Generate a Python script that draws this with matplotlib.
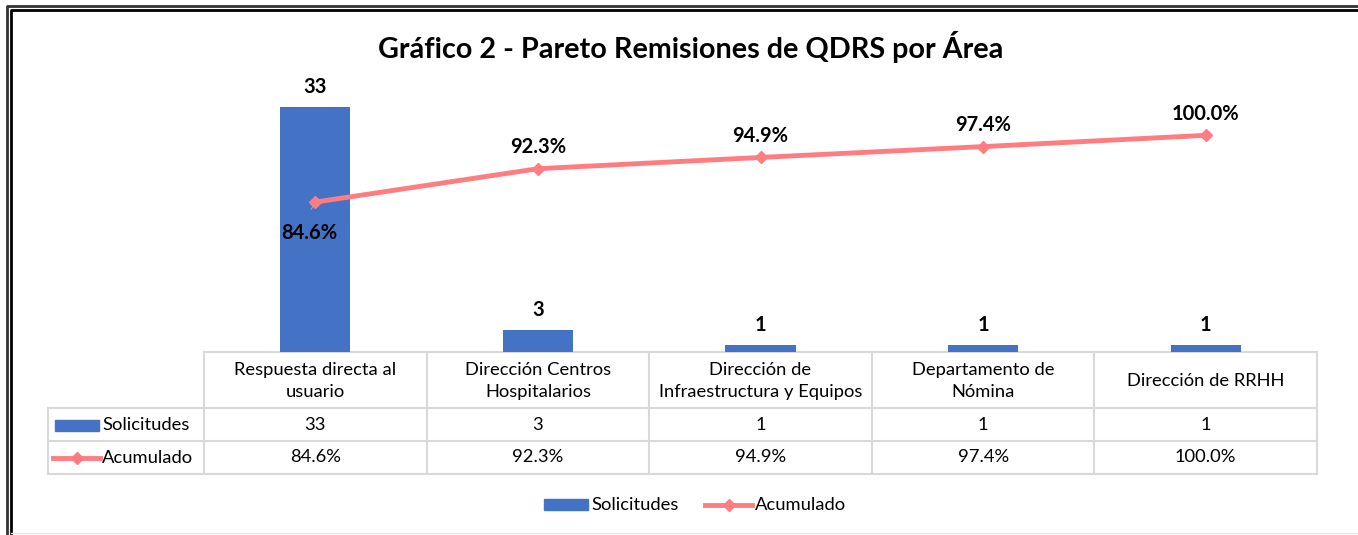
import matplotlib
matplotlib.use("Agg")
import matplotlib.pyplot as plt
from matplotlib.patches import Rectangle

categories = ["Respuesta directa al\nusuario", "Dirección Centros\nHospitalarios",
              "Dirección de\nInfraestructura y Equipos", "Departamento de\nNómina",
              "Dirección de RRHH"]
solicitudes = [33, 3, 1, 1, 1]
acumulado = [0.846, 0.923, 0.949, 0.974, 1.000]
acum_labels = ["84.6%", "92.3%", "94.9%", "97.4%", "100.0%"]
title = "Gráfico 2 - Pareto Remisiones de QDRS por Área"

BLUE = "#4472C4"
PINK = "#FF7C80"
GRID = "#D9D9D9"
FONT = ["Lato", "DejaVu Sans"]
plt.rcParams["font.family"] = FONT

W, H = 1358, 535
fig = plt.figure(figsize=(W / 100, H / 100), dpi=100)

# overlay in pixel coordinates
ov = fig.add_axes([0, 0, 1, 1])
ov.set_xlim(0, W)
ov.set_ylim(H, 0)
ov.axis("off")

# plot area
L, R, T, B = 204, 1317, 92, 352
ax = fig.add_axes([L / W, 1 - B / H, (R - L) / W, (B - T) / H])
ax2 = ax.twinx()
n = len(categories)
x = list(range(n))
ax.bar(x, solicitudes, width=0.315, color=BLUE, zorder=2)
ax.set_xlim(-0.5, n - 0.5)
ax.set_ylim(0, 35)
ax2.set_ylim(0.5, 1.1)
ax2.plot(x, acumulado, color=PINK, lw=3.5, marker="D", ms=6, zorder=3)
for a in (ax, ax2):
    a.axis("off")
ax.set_zorder(1)
ax2.set_zorder(2)

LBL = 14.5
for i, v in enumerate(solicitudes):
    ax.annotate(str(v), (i, v), xytext=(0, 7), textcoords="offset points",
                ha="center", va="bottom", fontsize=LBL, fontweight="bold")
for i, (v, lab) in enumerate(zip(acumulado, acum_labels)):
    if i == 0:
        ax2.annotate(lab, (i, v), xytext=(-4, -15), textcoords="offset points",
                     ha="center", va="top", fontsize=LBL, fontweight="bold")
    else:
        ax2.annotate(lab, (i, v), xytext=(0, 8.5), textcoords="offset points",
                     ha="center", va="bottom", fontsize=LBL, fontweight="bold")
# short leader line for the first label
ax2.annotate("", (0, acumulado[0]), xytext=(-4, -7), textcoords="offset points",
             arrowprops=dict(arrowstyle="-", color="#A6A6A6", lw=0.8))

# title
ov.text(691, 47, title, ha="center", va="center", fontsize=20.7, fontweight="bold")

# table
FS = 13.2
rows_y = [352, 408, 441, 474]
colw = (R - L) / n
lw = 1.5
ov.plot([L, R], [rows_y[0], rows_y[0]], color=GRID, lw=lw)
for y in rows_y[1:]:
    ov.plot([48, R], [y, y], color=GRID, lw=lw)
for i in range(n + 1):
    ov.plot([L + i * colw] * 2, [rows_y[0], rows_y[3]], color=GRID, lw=lw)
ov.plot([48, 48], [rows_y[1], rows_y[3]], color=GRID, lw=lw)

for i in range(n):
    cx = L + (i + 0.5) * colw
    ov.text(cx, (rows_y[0] + rows_y[1]) / 2 + 1, categories[i], ha="center", va="center",
            fontsize=FS, linespacing=1.45)
    ov.text(cx, (rows_y[1] + rows_y[2]) / 2, str(solicitudes[i]), ha="center",
            va="center", fontsize=FS)
    ov.text(cx, (rows_y[2] + rows_y[3]) / 2, acum_labels[i], ha="center",
            va="center", fontsize=FS)

# row keys
ov.add_patch(Rectangle((55, 420), 44, 11, color=BLUE))
ov.text(102, 425, "Solicitudes", ha="left", va="center", fontsize=FS)
ov.plot([53, 100], [458, 458], color=PINK, lw=3.5)
ov.plot([76.5], [458], color=PINK, marker="D", ms=6)
ov.text(102, 458, "Acumulado", ha="left", va="center", fontsize=FS)

# legend
ov.add_patch(Rectangle((544, 499), 44, 11, color=BLUE))
ov.text(591, 505, "Solicitudes", ha="left", va="center", fontsize=FS)
ov.plot([705, 752], [505, 505], color=PINK, lw=3.5)
ov.plot([728.5], [505], color=PINK, marker="D", ms=6)
ov.text(755, 505, "Acumulado", ha="left", va="center", fontsize=FS)

# borders
ov.plot([7, 7, W], [H, 6, 6], color="#333333", lw=2)
ov.plot([11, 11, W], [H, 10, 10], color="black", lw=2)
ov.plot([11, W], [533, 533], color="#E6E6E6", lw=1)

fig.savefig("out.png", dpi=100)
